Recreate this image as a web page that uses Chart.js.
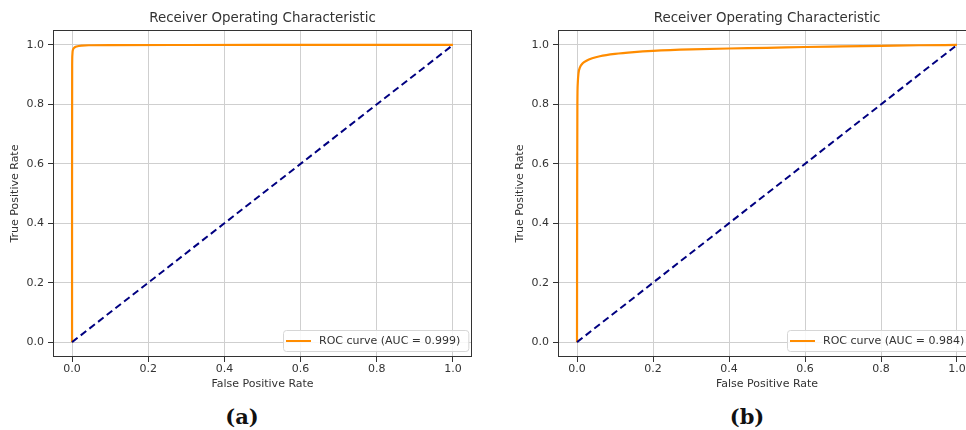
<!DOCTYPE html>
<html>
<head>
<meta charset="utf-8">
<script src="https://cdn.jsdelivr.net/npm/chart.js@4.4.1/dist/chart.umd.min.js"></script>
<style>
  html, body { margin: 0; padding: 0; background: #fff; overflow: hidden; width: 966px; height: 430px; position: relative; }
  .box { position: absolute; top: 0; height: 395px; overflow: hidden; }
  #ba { left: 0; width: 481px; }
  #bb { left: 505px; width: 461px; }
  canvas { position: absolute; top: 0; left: 0; }
  .cap { position: absolute; top: 404px; font-family: "DejaVu Serif", serif; font-weight: bold; font-size: 21px; color: #111; transform: translateX(-50%); }
</style>
</head>
<body>
<div class="box" id="ba"><canvas id="ca" width="481" height="395" style="width:481px;height:395px"></canvas></div>
<div class="box" id="bb"><canvas id="cb" width="480" height="395" style="width:480px;height:395px"></canvas></div>
<div class="cap" style="left:242px">(a)</div>
<div class="cap" style="left:747px">(b)</div>
<script>
// ---- data ----
const titleText = "Receiver Operating Characteristic";
const xTitle = "False Positive Rate";
const yTitle = "True Positive Rate";
const tickValues = [0, 0.2, 0.4, 0.6, 0.8, 1.0];

const fprA = [0, 0, 0.0003, 0.0008, 0.0015, 0.003, 0.006, 0.012, 0.025, 0.05, 0.1, 0.3, 1.0];
const tprA = [0, 0.5, 0.93, 0.965, 0.978, 0.986, 0.991, 0.995, 0.998, 0.999, 0.9995, 0.9998, 1.0];
const labelA = "ROC curve (AUC = 0.999)";

const fprB = [0, 0.0005, 0.001, 0.002, 0.004, 0.008, 0.015, 0.025, 0.04, 0.06, 0.1, 0.15, 0.2, 0.3, 0.4, 0.5, 0.6, 0.7, 0.8, 0.9, 1.0];
const tprB = [0, 0.55, 0.8, 0.87, 0.905, 0.925, 0.938, 0.947, 0.955, 0.962, 0.97, 0.976, 0.98, 0.985, 0.988, 0.99, 0.993, 0.995, 0.997, 0.999, 1.0];
const labelB = "ROC curve (AUC = 0.984)";

const diagX = [0, 1];
const diagY = [0, 1];

const FONT = "'DejaVu Sans', sans-serif";
const TXT = "#333";

const framePlugin = {
  id: 'frame',
  afterDatasetsDraw(chart) {
    const a = chart.chartArea, ctx = chart.ctx;
    ctx.save();
    ctx.strokeStyle = '#333';
    ctx.lineWidth = 1;
    ctx.strokeRect(Math.round(a.left) + 0.5, Math.round(a.top) + 0.5, Math.round(a.right - a.left) - 1, Math.round(a.bottom - a.top) - 1);
    ctx.restore();
  }
};

const legendPlugin = {
  id: 'innerLegend',
  afterDraw(chart) {
    const ds = chart.data.datasets[0];
    const a = chart.chartArea, ctx = chart.ctx;
    ctx.save();
    ctx.font = "11px " + FONT;
    const tw = ctx.measureText(ds.label).width;
    const h = 21, padL = 3, lineW = 25, gap = 8, padR = 8;
    const w = padL + lineW + gap + tw + padR;
    const x = Math.round(a.right - 4 - w), y = Math.round(a.bottom - 6 - h);
    ctx.beginPath();
    if (ctx.roundRect) ctx.roundRect(x + 0.5, y + 0.5, w, h, 3); else ctx.rect(x + 0.5, y + 0.5, w, h);
    ctx.fillStyle = 'rgba(255,255,255,0.85)';
    ctx.fill();
    ctx.strokeStyle = '#d6d6d6';
    ctx.lineWidth = 1;
    ctx.stroke();
    const cy = y + h / 2 + 0.5;
    ctx.beginPath();
    ctx.moveTo(x + padL, cy);
    ctx.lineTo(x + padL + lineW, cy);
    ctx.strokeStyle = ds.borderColor;
    ctx.lineWidth = 2;
    ctx.stroke();
    ctx.fillStyle = TXT;
    ctx.textBaseline = 'middle';
    ctx.fillText(ds.label, x + padL + lineW + gap, cy + 0.5);
    ctx.restore();
  }
};

function pts(xs, ys) { return xs.map((v, i) => ({ x: v, y: ys[i] })); }

function makeChart(id, fpr, tpr, label) {
  const axis = (isX) => ({
    type: 'linear',
    min: -0.05,
    max: 1.05,
    afterBuildTicks: (s) => { s.ticks = tickValues.map(v => ({ value: v })); },
    afterFit: (s) => { if (isX) s.height = 38; else s.width = 47; },
    grid: { color: '#cfcfcf', lineWidth: 1, tickColor: '#333', tickLength: 5, drawTicks: true },
    border: { display: false },
    ticks: {
      color: TXT, font: { family: FONT, size: 11 }, padding: isX ? 1 : 4,
      maxRotation: 0, autoSkip: false,
      callback: (v) => Number(v).toFixed(1)
    },
    title: { display: true, text: isX ? xTitle : yTitle, color: TXT, font: { family: FONT, size: 11 }, padding: isX ? { top: 0, bottom: 4 } : { top: 3, bottom: 0 } }
  });
  return new Chart(document.getElementById(id), {
    type: 'scatter',
    data: {
      datasets: [
        { label: label, data: pts(fpr, tpr), showLine: true, borderColor: '#ff8c00', backgroundColor: '#ff8c00', borderWidth: 2.2, pointRadius: 0, cubicInterpolationMode: 'monotone', order: 2 },
        { label: 'chance', data: pts(diagX, diagY), showLine: true, borderColor: '#000080', backgroundColor: '#000080', borderWidth: 2, borderDash: [7, 4], pointRadius: 0, order: 1 }
      ]
    },
    options: {
      responsive: false,
      maintainAspectRatio: false,
      animation: false,
      devicePixelRatio: 1,
      layout: { padding: { left: 6, right: 9, top: 0, bottom: 0 } },
      plugins: {
        legend: { display: false },
        tooltip: { enabled: false },
        title: { display: true, text: titleText, color: TXT, fullSize: false, font: { family: FONT, size: 13.4, weight: 'normal', lineHeight: 1.2 }, padding: { top: 10, bottom: 4 } }
      },
      scales: { x: axis(true), y: axis(false) }
    },
    plugins: [framePlugin, legendPlugin]
  });
}

makeChart('ca', fprA, tprA, labelA);
makeChart('cb', fprB, tprB, labelB);
</script>
</body>
</html>
